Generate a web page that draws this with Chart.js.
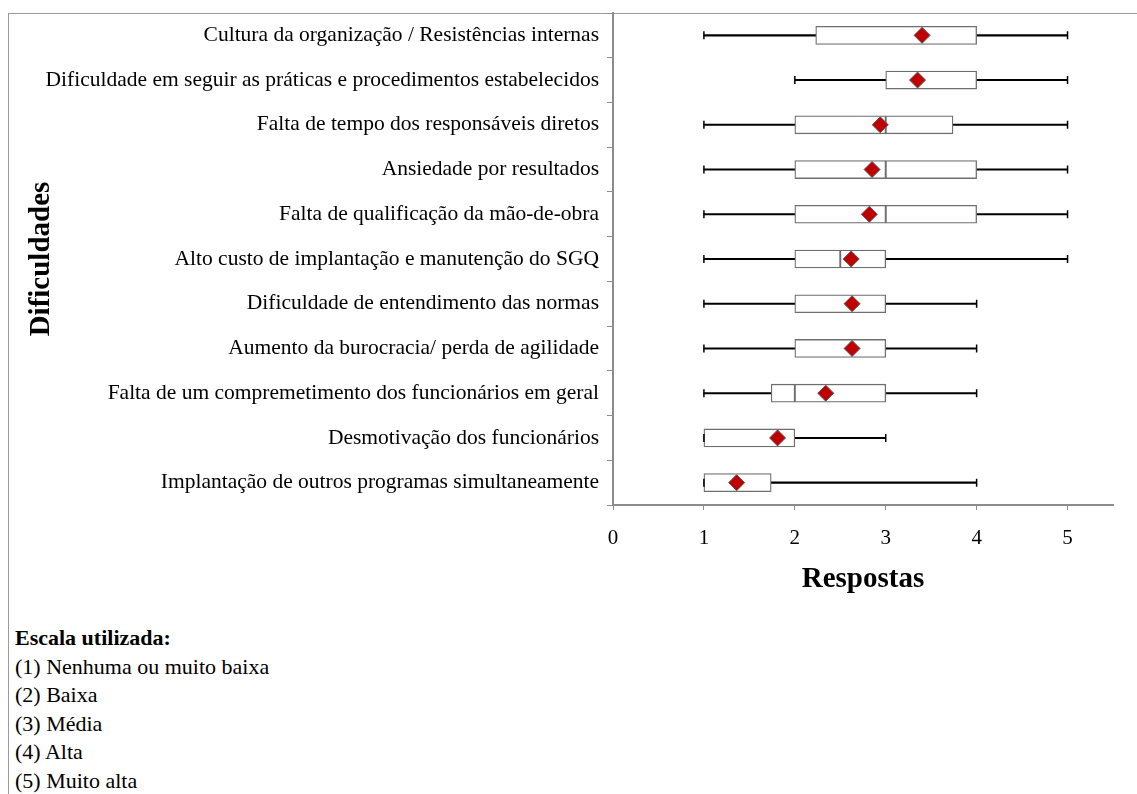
<!DOCTYPE html>
<html lang="pt">
<head>
<meta charset="utf-8">
<script src="https://cdn.jsdelivr.net/npm/chart.js@4.4.1/dist/chart.umd.min.js"></script>
<style>
    html, body { margin: 0; padding: 0; background: #fff; }
    body { width: 1137px; height: 794px; position: relative; overflow: hidden;
           font-family: "Liberation Serif", "Times New Roman", serif; }
    #moldura { position: absolute; left: 8px; top: 13px; right: 0; bottom: 0;
               border-top: 1px solid #9a9a9a; border-left: 1px solid #9a9a9a; }
    #caja { position: absolute; left: 0; top: 0; width: 1137px; height: 604px; }
    #escala { position: absolute; left: 15px; top: 624px; font-size: 22px; line-height: 28.6px; color: #000; }
    #escala b { font-size: 22px; }
</style>
</head>
<body>
<div id="moldura"></div>
<div id="caja"><canvas id="grafico"></canvas></div>
<div id="escala">
    <b>Escala utilizada:</b><br>
    (1) Nenhuma ou muito baixa<br>
    (2) Baixa<br>
    (3) Média<br>
    (4) Alta<br>
    (5) Muito alta
</div>
<script>
// =====================================
// DATOS
// =====================================

const categorias = [
    "Cultura da organização / Resistências internas",
    "Dificuldade em seguir as práticas e procedimentos estabelecidos",
    "Falta de tempo dos responsáveis diretos",
    "Ansiedade por resultados",
    "Falta de qualificação da mão-de-obra",
    "Alto custo de implantação e manutenção do SGQ",
    "Dificuldade de entendimento das normas",
    "Aumento da burocracia/ perda de agilidade",
    "Falta de um compremetimento dos funcionários em geral",
    "Desmotivação dos funcionários",
    "Implantação de outros programas simultaneamente"
];

const minimos  = [1, 2, 1, 1, 1, 1, 1, 1, 1, 1, 1];
const q1       = [2.23, 3, 2, 2, 2, 2, 2, 2, 1.74, 1, 1];
const medianas = [4, 3, 3, 3, 3, 2.5, 3, 3, 2, 2, 1];
const q3       = [4, 4, 3.74, 4, 4, 3, 3, 3, 3, 2, 1.74];
const maximos  = [5, 5, 5, 5, 5, 5, 4, 4, 4, 3, 4];
const medias   = [3.40, 3.35, 2.94, 2.85, 2.82, 2.62, 2.63, 2.63, 2.34, 1.81, 1.36];

const ticksX = [0, 1, 2, 3, 4, 5];

// =====================================
// ESTILOS
// =====================================

const GRIS_EJE = "#8c8c8c";
const GRIS_CAJA = "#6e6e6e";
const ROJO = "#C00000";

Chart.defaults.font.family = '"Liberation Serif", "Times New Roman", serif';
Chart.defaults.color = "#000";
Chart.defaults.animation = false;

const tramo = (a, b) => a.map((v, i) => [v, b[i]]);

const bigotes = {
    type: "bar",
    grouped: false,
    order: 3,
    barThickness: 1.4,
    backgroundColor: "#000",
    borderWidth: 0
};

const caja = {
    type: "bar",
    grouped: false,
    order: 2,
    barThickness: 18,
    backgroundColor: "#fff",
    borderColor: GRIS_CAJA,
    borderWidth: 1.3,
    borderSkipped: false
};

const topes = {
    type: "line",
    showLine: false,
    order: 2,
    pointStyle: "line",
    rotation: 90,
    pointRadius: 4,
    borderColor: "#000",
    borderWidth: 1.5
};

new Chart(document.getElementById("grafico"), {
    data: {
        labels: categorias,
        datasets: [
            { ...bigotes, label: "inferior", data: tramo(minimos, q1) },
            { ...bigotes, label: "superior", data: tramo(q3, maximos) },
            { ...topes, label: "min", data: minimos },
            { ...topes, label: "max", data: maximos },
            { ...caja, label: "q1-mediana", data: tramo(q1, medianas) },
            { ...caja, label: "mediana-q3", data: tramo(medianas, q3) },
            {
                type: "line",
                label: "Média",
                data: medias,
                showLine: false,
                order: 0,
                pointStyle: "rectRot",
                pointRadius: 8,
                backgroundColor: ROJO,
                borderColor: "#5a5a5a",
                borderWidth: 1
            }
        ]
    },
    options: {
        indexAxis: "y",
        responsive: true,
        maintainAspectRatio: false,
        layout: { padding: { left: 20, top: 13, right: 24, bottom: 3 } },
        plugins: {
            legend: { display: false },
            tooltip: { enabled: false }
        },
        scales: {
            x: {
                type: "linear",
                min: 0,
                max: 5.5,
                afterBuildTicks: s => { s.ticks = ticksX.map(v => ({ value: v })); },
                afterFit: s => { s.height = 96; },
                ticks: { font: { size: 21 }, padding: 16 },
                grid: { drawOnChartArea: false, tickLength: 5, color: GRIS_EJE },
                border: { color: GRIS_EJE, width: 2 },
                title: { display: true, text: "Respostas", font: { size: 29, weight: "bold" } }
            },
            y: {
                type: "category",
                afterFit: s => { s.width = 593; s.paddingTop = 0; s.paddingBottom = 0; },
                ticks: { font: { size: 21.5 }, padding: 8 },
                grid: { offset: true, drawOnChartArea: false, tickLength: 6, color: GRIS_EJE },
                border: { color: GRIS_EJE, width: 2 },
                title: { display: true, text: "Dificuldades", font: { size: 29, weight: "bold" } }
            }
        }
    }
});
</script>
</body>
</html>
